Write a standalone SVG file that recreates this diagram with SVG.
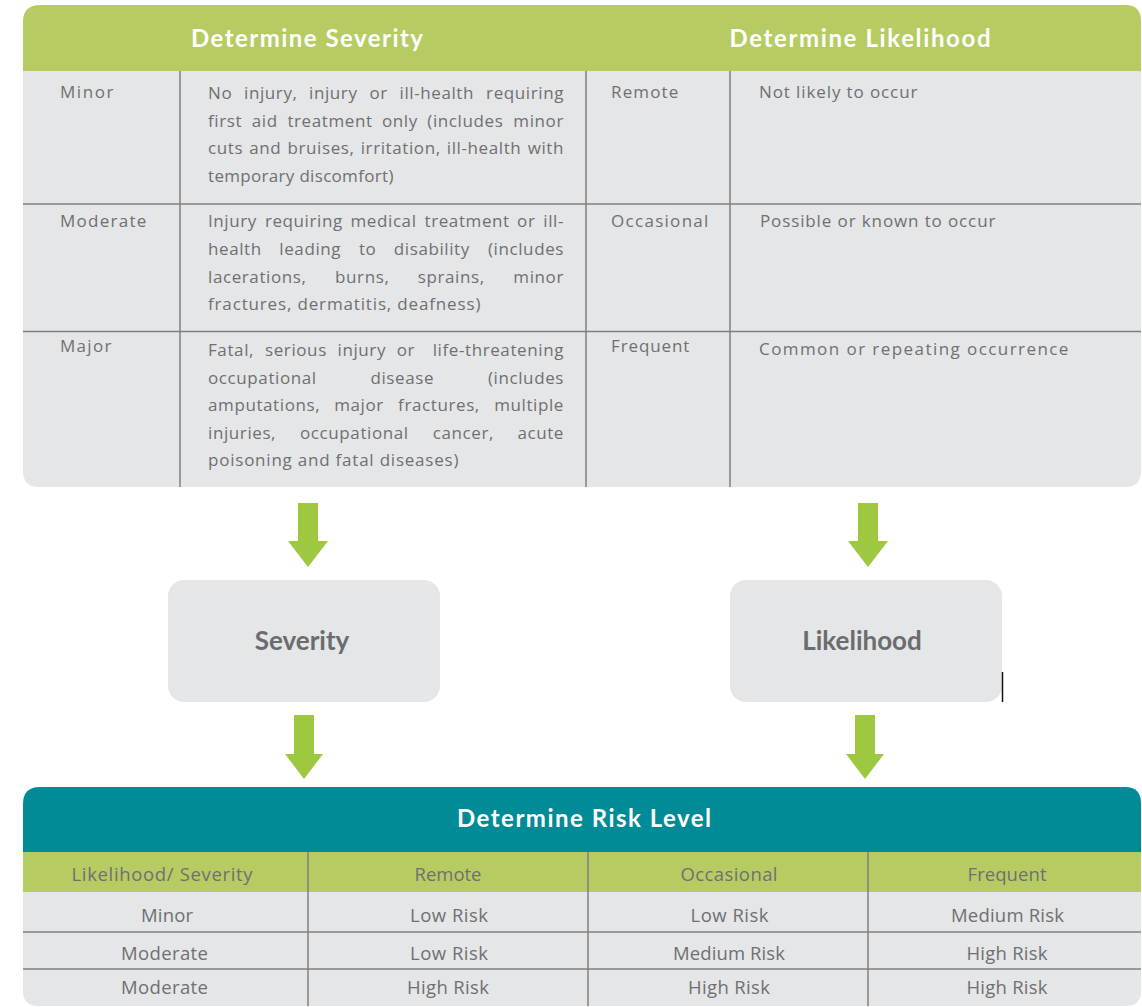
<svg xmlns="http://www.w3.org/2000/svg" width="1142" height="1007" viewBox="0 0 1142 1007">
  <style>
    .txt { font-family: "Open Sans", Lato, "Liberation Sans", sans-serif; font-size: 17px; letter-spacing: 0.6px; fill: #6f7072; }
    .cell { font-family: "Open Sans", Lato, "Liberation Sans", sans-serif; font-size: 18.5px; fill: #6f7072; text-anchor: middle; }
    .end { text-anchor: end; }
    .head { font-family: Lato, "Open Sans", "Liberation Sans", sans-serif; font-size: 24px; font-weight: bold; fill: #ffffff; text-anchor: middle; }
    .box-label { font-family: Lato, "Open Sans", "Liberation Sans", sans-serif; font-size: 26px; font-weight: bold; fill: #6b6c6e; text-anchor: middle; }
    .grid { stroke: #7f7f7f; stroke-width: 1.5; fill: none; }
    .panel { fill: #e5e6e8; }
    .green { fill: #b6cc63; }
    .teal { fill: #008b97; }
    .arrow { fill: #9dc83f; }
  </style>

  <!-- Upper table: severity and likelihood definitions -->
  <g id="definitions">
    <path class="panel" d="M23,71 H1141 V471 Q1141,487 1125,487 H39 Q23,487 23,471 Z"/>
    <path class="green" d="M23,71 V22 Q23,5 40,5 H1125 Q1141,5 1141,21 V71 Z"/>
    <text class="head" x="307" y="47" textLength="232" lengthAdjust="spacing">Determine Severity</text>
    <text class="head" x="860" y="47" textLength="261" lengthAdjust="spacing">Determine Likelihood</text>

    <line class="grid" x1="23" y1="204" x2="1141" y2="204"/>
    <line class="grid" x1="23" y1="331.5" x2="1141" y2="331.5"/>
    <line class="grid" x1="180" y1="71" x2="180" y2="487"/>
    <line class="grid" x1="586" y1="71" x2="586" y2="487"/>
    <line class="grid" x1="730" y1="71" x2="730" y2="487"/>

    <!-- severity rows: justified paragraphs, words spread evenly between x=208 and x=564 -->
    <text class="txt" x="60" y="98" textLength="54" lengthAdjust="spacing">Minor</text>
    <text class="txt" y="99"><tspan x="208">No</tspan><tspan x="244">injury,</tspan><tspan x="309">injury</tspan><tspan x="369.4">or</tspan><tspan x="399.5">ill-health</tspan><tspan class="end" x="564">requiring</tspan></text>
    <text class="txt" y="126.5"><tspan x="208">first</tspan><tspan x="251.8">aid</tspan><tspan x="287.4">treatment</tspan><tspan x="381.9">only</tspan><tspan x="427.3">(includes</tspan><tspan class="end" x="564">minor</tspan></text>
    <text class="txt" y="154"><tspan x="208">cuts</tspan><tspan x="249.3">and</tspan><tspan x="287.5">bruises,</tspan><tspan x="360.7">irritation,</tspan><tspan x="446.8">ill-health</tspan><tspan class="end" x="564">with</tspan></text>
    <text class="txt" x="208" y="181.5" textLength="186" lengthAdjust="spacing">temporary discomfort)</text>

    <text class="txt" x="60" y="227" textLength="87" lengthAdjust="spacing">Moderate</text>
    <text class="txt" y="227"><tspan x="208">Injury</tspan><tspan x="264.9">requiring</tspan><tspan x="350.5">medical</tspan><tspan x="424.5">treatment</tspan><tspan x="517.1">or</tspan><tspan class="end" x="564">ill-</tspan></text>
    <text class="txt" y="255"><tspan x="208">health</tspan><tspan x="279.3">leading</tspan><tspan x="358.9">to</tspan><tspan x="393.8">disability</tspan><tspan class="end" x="564">(includes</tspan></text>
    <text class="txt" y="282.5"><tspan x="208">lacerations,</tspan><tspan x="335.1">burns,</tspan><tspan x="417.8">sprains,</tspan><tspan class="end" x="564">minor</tspan></text>
    <text class="txt" x="208" y="310" textLength="273" lengthAdjust="spacing">fractures, dermatitis, deafness)</text>

    <text class="txt" x="60" y="352" textLength="52" lengthAdjust="spacing">Major</text>
    <text class="txt" y="356"><tspan x="208">Fatal,</tspan><tspan x="265">serious</tspan><tspan x="337.5">injury</tspan><tspan x="396.7">or</tspan><tspan class="end" x="564">life-threatening</tspan></text>
    <text class="txt" y="383.5"><tspan x="208">occupational</tspan><tspan x="370.4">disease</tspan><tspan class="end" x="564">(includes</tspan></text>
    <text class="txt" y="411"><tspan x="208">amputations,</tspan><tspan x="334.2">major</tspan><tspan x="398.1">fractures,</tspan><tspan class="end" x="564">multiple</tspan></text>
    <text class="txt" y="438.5"><tspan x="208">injuries,</tspan><tspan x="300">occupational</tspan><tspan x="432.7">cancer,</tspan><tspan class="end" x="564">acute</tspan></text>
    <text class="txt" x="208" y="466" textLength="251" lengthAdjust="spacing">poisoning and fatal diseases)</text>

    <!-- likelihood rows -->
    <text class="txt" x="611" y="98" textLength="68" lengthAdjust="spacing">Remote</text>
    <text class="txt" x="759" y="98" textLength="159" lengthAdjust="spacing">Not likely to occur</text>
    <text class="txt" x="611" y="227" textLength="98" lengthAdjust="spacing">Occasional</text>
    <text class="txt" x="760" y="227" textLength="236" lengthAdjust="spacing">Possible or known to occur</text>
    <text class="txt" x="611" y="352" textLength="79" lengthAdjust="spacing">Frequent</text>
    <text class="txt" x="759" y="355" textLength="310" lengthAdjust="spacing">Common or repeating occurrence</text>
  </g>

  <!-- Summary boxes -->
  <g id="severity">
    <rect class="panel" x="168" y="580" width="272" height="122" rx="16"/>
    <text class="box-label" x="302" y="650">Severity</text>
  </g>
  <g id="likelihood">
    <rect class="panel" x="730" y="580" width="272" height="122" rx="16"/>
    <text class="box-label" x="862" y="650">Likelihood</text>
    <line x1="1002.5" y1="672" x2="1002.5" y2="702" stroke="#111111" stroke-width="1.5"/>
  </g>

  <!-- Lower table: risk matrix -->
  <g id="risk-level">
    <path class="panel" d="M23,892 H1141 V991 Q1141,1006 1126,1006 H38 Q23,1006 23,991 Z"/>
    <path class="teal" d="M23,852 V804 Q23,787 40,787 H1125 Q1141,787 1141,803 V852 Z"/>
    <rect class="green" x="23" y="852" width="1118" height="40"/>
    <text class="head" x="584" y="827" textLength="254" lengthAdjust="spacing">Determine Risk Level</text>

    <line class="grid" x1="23" y1="932" x2="1141" y2="932"/>
    <line class="grid" x1="23" y1="969" x2="1141" y2="969"/>
    <line class="grid" x1="308" y1="852" x2="308" y2="1006"/>
    <line class="grid" x1="588" y1="852" x2="588" y2="1006"/>
    <line class="grid" x1="868" y1="852" x2="868" y2="1006"/>

    <text class="cell" x="162" y="881" textLength="181" lengthAdjust="spacing">Likelihood/ Severity</text>
    <text class="cell" x="448" y="881" textLength="67" lengthAdjust="spacing">Remote</text>
    <text class="cell" x="729" y="881" textLength="97" lengthAdjust="spacing">Occasional</text>
    <text class="cell" x="1007" y="881" textLength="79" lengthAdjust="spacing">Frequent</text>

    <text class="cell" x="167" y="922" textLength="52" lengthAdjust="spacing">Minor</text>
    <text class="cell" x="449" y="922" textLength="78" lengthAdjust="spacing">Low Risk</text>
    <text class="cell" x="729.5" y="922" textLength="78" lengthAdjust="spacing">Low Risk</text>
    <text class="cell" x="1007.5" y="922" textLength="113" lengthAdjust="spacing">Medium Risk</text>

    <text class="cell" x="164.5" y="960" textLength="87" lengthAdjust="spacing">Moderate</text>
    <text class="cell" x="449" y="960" textLength="78" lengthAdjust="spacing">Low Risk</text>
    <text class="cell" x="729" y="960" textLength="112" lengthAdjust="spacing">Medium Risk</text>
    <text class="cell" x="1007" y="960" textLength="81" lengthAdjust="spacing">High Risk</text>

    <text class="cell" x="164.5" y="994" textLength="87" lengthAdjust="spacing">Moderate</text>
    <text class="cell" x="448" y="994" textLength="82" lengthAdjust="spacing">High Risk</text>
    <text class="cell" x="729" y="994" textLength="82" lengthAdjust="spacing">High Risk</text>
    <text class="cell" x="1007" y="994" textLength="81" lengthAdjust="spacing">High Risk</text>
  </g>

  <!-- Block arrows between stages -->
  <g id="connectors">
    <polygon class="arrow" points="298,503 318,503 318,541 328,541 308,567 288,541 298,541"/>
    <polygon class="arrow" points="858,503 878,503 878,541 888,541 868,567 848,541 858,541"/>
    <polygon class="arrow" points="294,715 314,715 314,754 323,754 304,779 285,754 294,754"/>
    <polygon class="arrow" points="855,715 875,715 875,754 884,754 865,779 846,754 855,754"/>
  </g>
</svg>
